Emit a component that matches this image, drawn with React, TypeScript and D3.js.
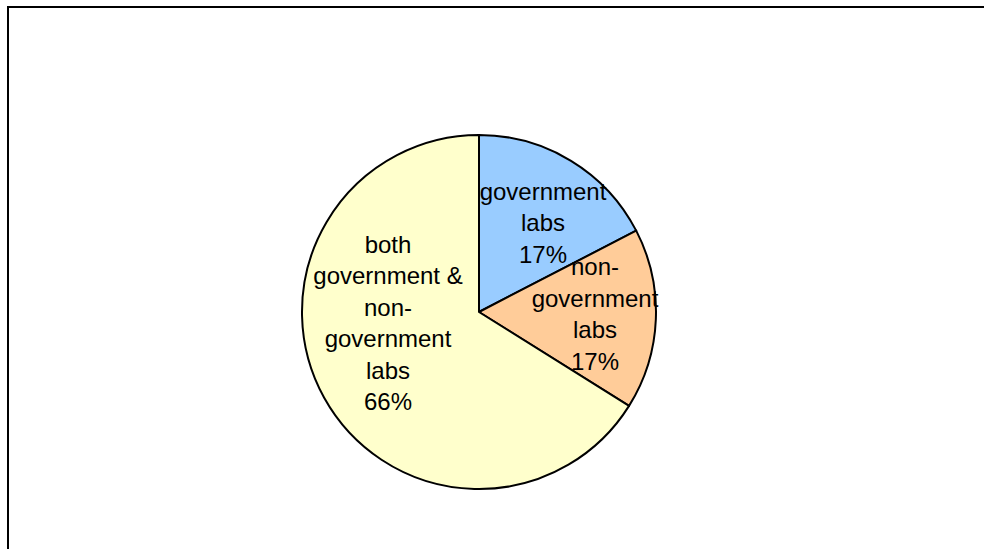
import React from "react";
import * as d3 from "d3";

const categories = ["government labs", "non-government labs", "both government & non-government labs"];
const values = [17.4, 16.5, 66.1];
const labelLines = [
  ["government", "labs", "17%"],
  ["non-", "government", "labs", "17%"],
  ["both", "government &", "non-", "government", "labs", "66%"],
];
const colors = ["#99CCFF", "#FFCC99", "#FFFFCC"];

// layout: label anchor offsets relative to pie centre (px)
const labelOffsets: [number, number][] = [
  [64, -89],
  [116, 2],
  [-91, 11],
];

export default function App() {
  const W = 984;
  const H = 549;
  const cx = 479;
  const cy = 312;
  const r = 177;
  const lineH = 31.5;

  const pie = d3
    .pie<number>()
    .sort(null)
    .startAngle(0)
    .endAngle(2 * Math.PI)
    .value((d) => d);
  const arcs = pie(values);
  const arc = d3.arc<d3.PieArcDatum<number>>().innerRadius(0).outerRadius(r);

  return (
    <svg
      width={W}
      height={H}
      style={{ position: "absolute", left: 0, top: 0, background: "#fff" }}
      fontFamily="'Liberation Sans', Arial, sans-serif"
    >
      <rect x={8} y={7} width={1100} height={1100} fill="#fff" stroke="#000" strokeWidth={2} />
      <g transform={`translate(${cx},${cy})`}>
        {arcs.map((a, i) => (
          <path key={categories[i]} d={arc(a) || ""} fill={colors[i]} stroke="#000" strokeWidth={2} strokeLinejoin="round" />
        ))}
        {arcs.map((a, i) => {
          const lines = labelLines[i];
          const [ox, oy] = labelOffsets[i];
          const y0 = oy - ((lines.length - 1) * lineH) / 2;
          return (
            <text key={"l" + i} x={ox} textAnchor="middle" fontSize={24} fill="#000">
              {lines.map((ln, j) => (
                <tspan key={j} x={ox} y={y0 + j * lineH} dy="0.35em">
                  {ln}
                </tspan>
              ))}
            </text>
          );
        })}
      </g>
    </svg>
  );
}
